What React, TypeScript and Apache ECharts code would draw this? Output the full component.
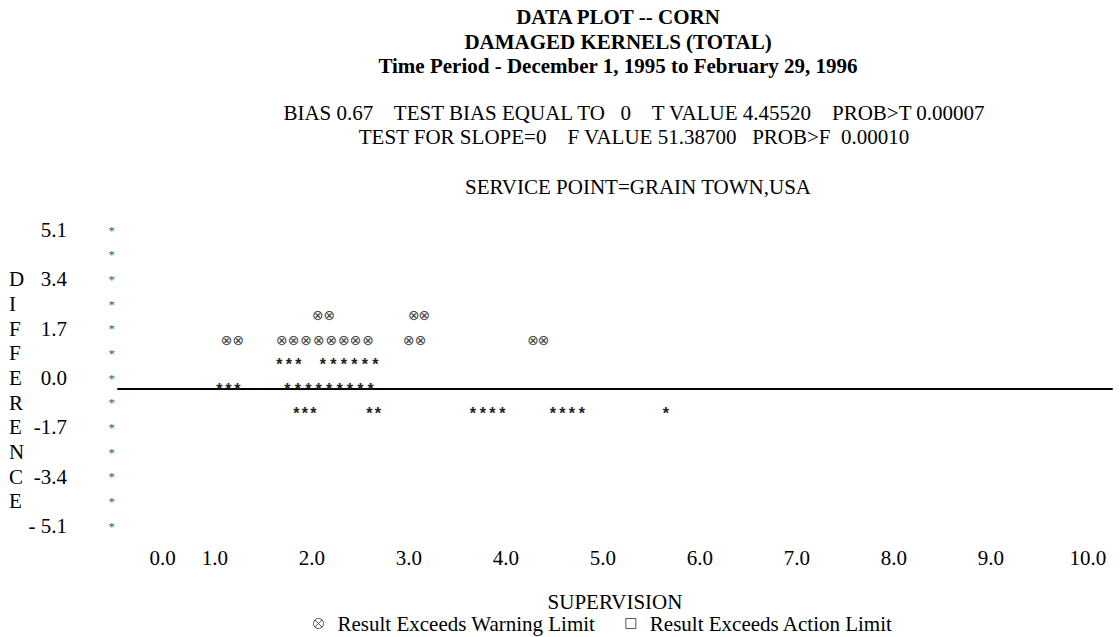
import React, { useEffect, useRef } from "react";
import * as echarts from "echarts";

const titleLines = [
  "DATA PLOT -- CORN",
  "DAMAGED KERNELS (TOTAL)",
  "Time Period - December 1, 1995 to February 29, 1996",
];
const statLines = [
  "BIAS 0.67    TEST BIAS EQUAL TO   0    T VALUE 4.45520    PROB>T 0.00007",
  "TEST FOR SLOPE=0    F VALUE 51.38700   PROB>F  0.00010",
];
const servicePoint = "SERVICE POINT=GRAIN TOWN,USA";
const xAxisName = "SUPERVISION";
const legendWarning = "Result Exceeds Warning Limit";
const legendAction = "Result Exceeds Action Limit";

// x tick positions (supervision units) and labels
const xTickValues = [0.46, 1, 2, 3, 4, 5, 6, 7, 8, 9, 10];
const xTickLabels = ["0.0", "1.0", "2.0", "3.0", "4.0", "5.0", "6.0", "7.0", "8.0", "9.0", "10.0"];

// y ticks (bottom to top)
const yTickLabels = ["- 5.1", "", "-3.4", "", "-1.7", "", "0.0", "", "1.7", "", "3.4", "", "5.1"];
const yNameLetters = ["", "E", "C", "N", "E", "R", "E", "F", "F", "I", "D", "", ""];

// Warning-limit marks (⊗), x positions per row
const warnRow255 = [2.06, 2.18, 3.05, 3.16];
const warnRow170 = [1.12, 1.24, 1.69, 1.81, 1.94, 2.07, 2.2, 2.33, 2.45, 2.58, 3.0, 3.12, 4.28, 4.39];
// Plotted result marks (*), x positions per row
const starRow085 = [1.665, 1.763, 1.861, 2.113, 2.222, 2.33, 2.438, 2.546, 2.655];
const starRow000 = [1.046, 1.139, 1.232, 1.747, 1.855, 1.962, 2.069, 2.176, 2.284, 2.391, 2.498, 2.605];
const starRowM085 = [1.84, 1.928, 2.015, 2.593, 2.68, 3.66, 3.763, 3.861, 3.964, 4.485, 4.582, 4.68, 4.784, 5.649];
// zero reference line segments
const zeroLineA = [[0.02, 0], [1.67, 0]];
const zeroLineB = [[2.7, 0], [10.25, 0]];

const SERIF = "'Liberation Serif', 'Times New Roman', serif";

function rows(xs: number[], y: number) {
  return xs.map((x) => [x, y]);
}

export default function App() {
  const ref = useRef<HTMLDivElement>(null);
  useEffect(() => {
    if (!ref.current) return;
    const chart = echarts.init(ref.current, null, { renderer: "svg" });
    const warnData = [...rows(warnRow255, 2.55), ...rows(warnRow170, 1.7)];
    const starData = [...rows(starRow085, 0.85), ...rows(starRow000, 0), ...rows(starRowM085, -0.85)];
    const textMark = (ch: string, size: number, family: string, weight: string, color: string) =>
      (params: any, api: any) => {
        const p = api.coord([api.value(0), api.value(1)]);
        return {
          type: "text",
          x: p[0],
          y: p[1],
          style: {
            text: ch,
            fill: color,
            fontSize: size,
            fontFamily: family,
            fontWeight: weight,
            align: "center",
            verticalAlign: "middle",
          },
        };
      };
    chart.setOption({
      animation: false,
      backgroundColor: "#fff",
      title: [
        {
          text: titleLines.join("\n"),
          left: 618,
          top: 5,
          textAlign: "center",
          padding: 0,
          textStyle: { fontFamily: SERIF, fontSize: 21, fontWeight: "bold", lineHeight: 24.5, color: "#000" },
        },
        {
          text: statLines.join("\n"),
          left: 634,
          top: 101,
          textAlign: "center",
          padding: 0,
          textStyle: { fontFamily: SERIF, fontSize: 21, fontWeight: "normal", lineHeight: 24, color: "#000" },
        },
        {
          text: servicePoint,
          left: 638,
          top: 175,
          textAlign: "center",
          padding: 0,
          textStyle: { fontFamily: SERIF, fontSize: 21, fontWeight: "normal", lineHeight: 24, color: "#000" },
        },
      ],
      legend: {
        left: 313,
        top: 613,
        itemGap: 30,
        itemWidth: 10,
        itemHeight: 10,
        padding: 0,
        selectedMode: false,
        textStyle: { fontFamily: SERIF, fontSize: 21, lineHeight: 21, color: "#000", padding: [0, 0, 0, 9] },
        data: [
          {
            name: legendWarning,
            icon: "path://M5,0A5,5,0,1,1,4.99,0ZM1.6,1.6L8.4,8.4M8.4,1.6L1.6,8.4",
            itemStyle: { color: "transparent", borderColor: "#555", borderWidth: 1 },
          },
          {
            name: legendAction,
            icon: "rect",
            itemStyle: { color: "transparent", borderColor: "#555", borderWidth: 1 },
          },
        ],
      },
      grid: { left: 118, right: 8, top: 241, bottom: 100, containLabel: false },
      xAxis: {
        type: "value",
        min: 0,
        max: 10.25,
        name: xAxisName,
        nameLocation: "middle",
        nameGap: 54,
        nameTextStyle: { fontFamily: SERIF, fontSize: 21, color: "#000" },
        axisLine: { show: true, lineStyle: { color: "#000", width: 2 } },
        axisTick: { show: false },
        splitLine: { show: false },
        axisLabel: {
          customValues: xTickValues,
          margin: 10,
          fontFamily: SERIF,
          fontSize: 21,
          color: "#000",
          formatter: (v: number) => {
            const i = xTickValues.findIndex((t) => Math.abs(t - v) < 1e-6);
            return i >= 0 ? xTickLabels[i] : "";
          },
        },
      },
      yAxis: {
        type: "value",
        min: -5.1,
        max: 5.1,
        interval: 0.85,
        axisLine: { show: false },
        axisTick: { show: false },
        splitLine: { show: false },
        axisLabel: {
          margin: 3,
          verticalAlign: "bottom",
          lineHeight: 22,
          formatter: (v: number) => {
            const i = Math.round((v + 5.1) / 0.85);
            const l = yNameLetters[i] || "\u00a0";
            const n = yTickLabels[i] || "\u00a0";
            return `{l|${l}}{n|${n}}{s|*}`;
          },
          rich: {
            l: { width: 20, align: "left", fontFamily: SERIF, fontSize: 21, color: "#000", lineHeight: 22 },
            n: { width: 38, align: "right", fontFamily: SERIF, fontSize: 21, color: "#000", lineHeight: 22 },
            s: { width: 48, align: "right", fontFamily: SERIF, fontSize: 13, color: "#555", lineHeight: 22 },
          },
        },
      },
      series: [
        {
          type: "line",
          data: zeroLineA,
          symbol: "none",
          silent: true,
          lineStyle: { color: "#000", width: 1 },
          z: 1,
        },
        {
          type: "line",
          data: zeroLineB,
          symbol: "none",
          silent: true,
          lineStyle: { color: "#000", width: 2 },
          z: 1,
        },
        {
          name: legendWarning,
          type: "custom",
          data: warnData,
          clip: false,
          z: 3,
          itemStyle: { color: "#555" },
          renderItem: textMark("\u2297", 14, "'DejaVu Sans'", "normal", "#444"),
        },
        {
          name: legendAction,
          type: "custom",
          data: [],
          z: 3,
          itemStyle: { color: "#555" },
          renderItem: textMark("\u25a1", 14, "'DejaVu Sans'", "normal", "#444"),
        },
        {
          name: "Result",
          type: "custom",
          data: starData,
          clip: false,
          z: 3,
          renderItem: textMark("*", 16, "'Liberation Sans'", "bold", "#222"),
        },
      ],
    });
    return () => chart.dispose();
  }, []);
  return (
    <div
      ref={ref}
      style={{ position: "absolute", left: 0, top: 0, width: 1120, height: 637, background: "#fff" }}
    />
  );
}
